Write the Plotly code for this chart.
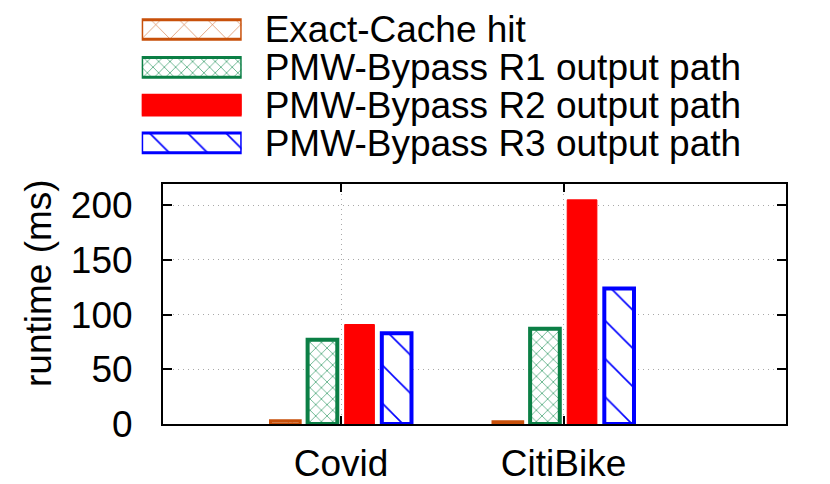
import plotly.graph_objects as go

# ---- data ----
categories = ["Covid", "CitiBike"]
series_names = ["Exact-Cache hit", "PMW-Bypass R1 output path",
                "PMW-Bypass R2 output path", "PMW-Bypass R3 output path"]
exact_cache = [3, 2]
pmw_r1 = [77, 87]
pmw_r2 = [91, 205]
pmw_r3 = [83, 124]
y_ticks = [0, 50, 100, 150, 200]

series_values = [exact_cache, pmw_r1, pmw_r2, pmw_r3]

# ---- styles ----
FONT = "Liberation Sans"
FS = 37
styles = [
    dict(color="white", line=dict(color="#c8500a", width=3),
         pattern=dict(shape="x", fgcolor="#c8500a", bgcolor="white", size=20, solidity=0.05, fillmode="replace")),
    dict(color="white", line=dict(color="#0b7f45", width=4),
         pattern=dict(shape="x", fgcolor="#45a474", bgcolor="white", size=8, solidity=0.18, fillmode="replace")),
    dict(color="#ff0000", line=dict(color="#ff0000", width=1)),
    dict(color="white", line=dict(color="#0000ff", width=4),
         pattern=dict(shape="\\", fgcolor="#0000ff", bgcolor="white", size=27, solidity=0.06, fillmode="replace")),
]

fig = go.Figure()
xpos = list(range(len(categories)))
for name, vals, st in zip(series_names, series_values, styles):
    fig.add_trace(go.Bar(x=xpos, y=vals, name=name, marker=st,
                         showlegend=False, xaxis="x", yaxis="y"))

# legend swatches: one horizontal bar per series, labelled by the axis
legend_rows = list(range(len(series_names)))
for i, (name, st) in enumerate(zip(series_names, styles)):
    m = dict(st)
    m["line"] = dict(color=st["line"]["color"], width=3)
    fig.add_trace(go.Bar(
        y=[legend_rows[i]], x=[1], orientation="h",
        width=0.52, offset=-0.26, xaxis="x2", yaxis="y2",
        showlegend=False, marker=m, hoverinfo="skip",
    ))

# page body has an 8px margin; compensate so the plot lands where intended
OFF = 8
W, H = 822, 476
ML, MR, MT, MB = 92, 44, 0, 60
PW, PH = W - ML - MR, H - MT - MB

def px_x(p):
    return (p - OFF - ML) / PW

def px_y(p):
    return (H - MB - (p - OFF)) / PH

GRID = dict(showgrid=True, gridcolor="#a8a8a8", griddash="1px,4px", gridwidth=1)

fig.update_layout(
    width=W, height=H,
    margin=dict(l=ML, r=MR, t=MT, b=MB),
    paper_bgcolor="white", plot_bgcolor="white",
    font=dict(family=FONT, size=FS, color="black"),
    barmode="group", bargap=0.333, bargroupgap=0.2,
    xaxis=dict(
        domain=[px_x(163), 1], range=[-0.8, 2.0],
        tickmode="array", tickvals=xpos, ticktext=categories,
        ticks="inside", ticklen=8, tickwidth=2, tickcolor="black",
        showline=True, linecolor="black", linewidth=2, mirror="ticks",
        zeroline=False, ticklabelstandoff=6,
        anchor="y", **GRID,
    ),
    yaxis=dict(
        domain=[0, px_y(184)], range=[0, 219.5],
        tickmode="array", tickvals=y_ticks,
        ticks="inside", ticklen=9, tickwidth=2, tickcolor="black",
        showline=True, linecolor="black", linewidth=2, mirror="ticks",
        zeroline=False, ticklabelstandoff=21,
        anchor="x", **GRID,
    ),
    xaxis2=dict(
        domain=[px_x(141.7), px_x(241.7)], range=[0, 1],
        showgrid=False, zeroline=False, showline=False, showticklabels=False,
        anchor="y2",
    ),
    yaxis2=dict(
        domain=[px_y(161.8), px_y(10.6)], range=[3.5, -0.5],
        tickmode="array", tickvals=legend_rows, ticktext=series_names,
        side="right", anchor="x2",
        showgrid=False, zeroline=False, showline=False, ticks="",
        ticklabelstandoff=22,
    ),
    annotations=[dict(
        text="runtime (ms)", textangle=-90, showarrow=False,
        xref="paper", yref="paper", x=px_x(38), y=px_y(283),
        xanchor="center", yanchor="middle",
        font=dict(family=FONT, size=FS, color="black"),
    )],
)

fig.write_html("out.html")
